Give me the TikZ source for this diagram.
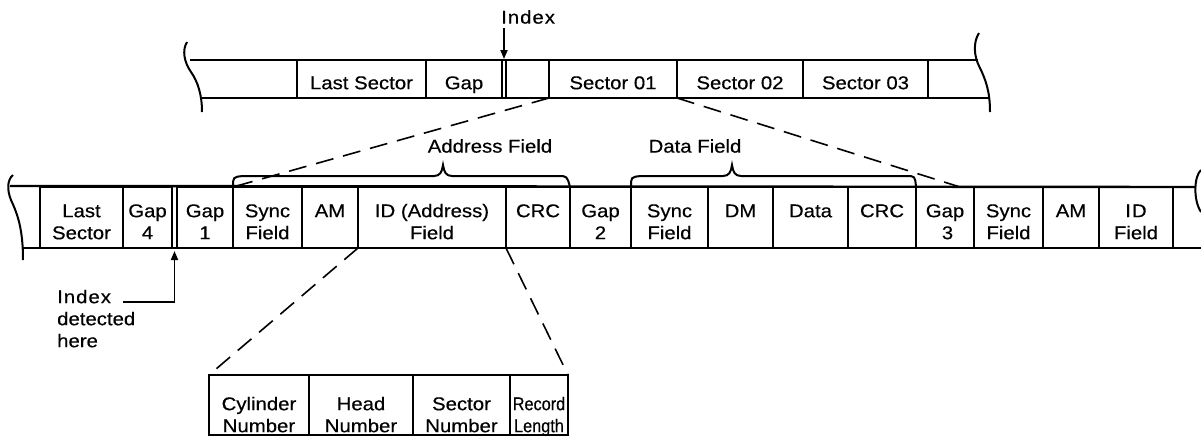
\documentclass[tikz,border=0pt]{standalone}
\usepackage{fontspec}
\setmainfont[FakeStretch=1.1,FakeBold=0.4]{Liberation Sans}
\usetikzlibrary{fit,arrows.meta}

% one field of a track: a framed cell fitted between two x and two y values,
% with its text hung from the top edge by a given drop
\newcommand\trackcell[7]{%
  \node[cell, fit={(#2,#4) (#3,#5)}] (#1) {};
  \node[celltext] (#1-t) at ([yshift=-#6pt]#1.north) {\rule{0pt}{14pt}#7};}
% narrow lettering for the tight last cell
\newcommand\narrow[1]{\scalebox{0.8}[1]{#1}}

\begin{document}
\begin{tikzpicture}[x=1pt,y=-1pt,
  every node/.style={font=\fontsize{18.5}{22}\selectfont},
  cell/.style={draw, line width=2pt, inner sep=0pt, outer sep=0pt},
  celltext/.style={inner sep=0pt, align=center, anchor=north},
  band/.style={line width=2.4pt},
  torn/.style={line width=2pt},
  zoomline/.style={line width=1.6pt, dash pattern=on 18pt off 10pt},
  bracket/.style={line width=2pt},
  pointer/.style={line width=1.8pt, -{Triangle[length=9pt,width=7pt]}},
  lbl/.style={inner sep=0pt},
]
\useasboundingbox (0,0) rectangle (1201,437);

% ---------- upper track: whole sectors ----------
\draw[band] (190,60) -- (978,60);
\draw[band] (202,98) -- (990,98);
\draw[torn] (187,42) .. controls (182,50) and (184,62) .. (191,72)
            .. controls (198,82) and (202,95) .. (202,112);
\draw[torn] (979,33) .. controls (973,42) and (974,56) .. (979,66)
            .. controls (986,80) and (990,92) .. (990,112);
\trackcell{tls}{297}{426}{60}{98}{15}{Last Sector}
\trackcell{tgap}{426}{502}{60}{98}{15}{Gap}
\trackcell{tpre}{506}{549}{60}{98}{15}{}
\trackcell{s1}{549}{677}{60}{98}{15}{Sector 01}
\trackcell{s2}{677}{803}{60}{98}{15}{Sector 02}
\trackcell{s3}{803}{928}{60}{98}{15}{Sector 03}

\node[lbl, anchor=west] (idx) at (501,17) {I\kern1pt n\kern1pt d\kern1pt e\kern1pt x};
\coordinate (idxpt) at (504,59);
\draw[pointer] (idxpt |- idx.south) ++(0,4) -- (idxpt);

% ---------- middle track: one sector in detail ----------
\draw[band] (10,186) -- (1196,187);
\draw[band] (23,248) -- (1201,248);
\draw[torn] (13,175) .. controls (7,180) and (7,190) .. (11,200)
            .. controls (18,215) and (23,230) .. (23,260);
\draw[torn] (1201,170) .. controls (1194,176) and (1193,200) .. (1201,212);

\trackcell{mls}{40}{123}{187}{248}{16}{Last\\Sector}
\trackcell{g4}{123}{172}{187}{248}{16}{Gap\\4}
\trackcell{g1}{177}{233}{187}{248}{16}{Gap\\1}
\trackcell{sf1}{233}{302}{187}{248}{16}{Sync\\Field}
\trackcell{am1}{302}{358}{187}{248}{16}{AM}
\trackcell{id}{358}{506}{187}{248}{16}{ID (Address)\\Field}
\trackcell{crc1}{506}{570}{187}{248}{16}{CRC}
\trackcell{g2}{570}{631}{187}{248}{16}{Gap\\2}
\trackcell{sf2}{631}{708}{187}{248}{16}{Sync\\Field}
\trackcell{dm}{708}{773}{187}{248}{16}{DM}
\trackcell{dat}{773}{848}{187}{248}{16}{Data}
\trackcell{crc2}{848}{916}{187}{248}{16}{CRC}
\trackcell{g3}{916}{974}{187}{248}{16}{Gap\\\hspace*{5pt}3}
\trackcell{sf3}{974}{1043}{187}{248}{16}{Sync\\Field}
\trackcell{am2}{1043}{1099}{187}{248}{16}{AM}
\trackcell{idf}{1099}{1173}{187}{248}{16}{I\kern1pt D\\Field}

% field brackets
\draw[bracket] (sf1.north west) .. controls (233,177) .. (243,176) -- (434,176)
   .. controls (440,176) and (442,172) .. (443,165)
   .. controls (444,172) and (446,176) .. (452,176) -- (558,176)
   .. controls (567,176) .. (crc1.north east);
\draw[bracket] (sf2.north west) .. controls (631,177) .. (641,176) -- (723,176)
   .. controls (729,176) and (731,172) .. (732,165)
   .. controls (733,172) and (735,176) .. (741,176) -- (906,176)
   .. controls (915,176) .. (crc2.north east);
\node[lbl] (addr) at (490,146) {Address Field};
\node[lbl] (datf) at (695,146) {Data Field};

% expansion of Sector 01
\coordinate (g3top) at (960,187);
\draw[zoomline] (s1.south west) -- (sf1.north west);
\draw[zoomline] (s1.south east) -- (g3top);

% index detection
\node[lbl, align=left, anchor=north west] (det) at (57,289) {\rule{0pt}{14pt}I\kern1pt n\kern1pt d\kern1pt e\kern1pt x\\detected\\here};
\coordinate (dettail) at (123,302);
\coordinate (detcorner) at (174.5,302);
\coordinate (detpt) at (174.5,251);
\draw[pointer] (dettail) -- (detcorner) -- (detpt);

% ---------- lower row: the ID field ----------
\trackcell{cyl}{209}{309}{375}{435}{21}{Cylinder\\Number}
\trackcell{head}{309}{413}{375}{435}{21}{Head\\Number}
\trackcell{secn}{413}{510}{375}{435}{21}{Sector\\Number}
\trackcell{rec}{510}{568}{375}{435}{21}{\narrow{Record}\\\narrow{Length}}
\draw[zoomline] (id.south west) -- (cyl.north west);
\draw[zoomline] (id.south east) -- (rec.north east);
\end{tikzpicture}
\end{document}
